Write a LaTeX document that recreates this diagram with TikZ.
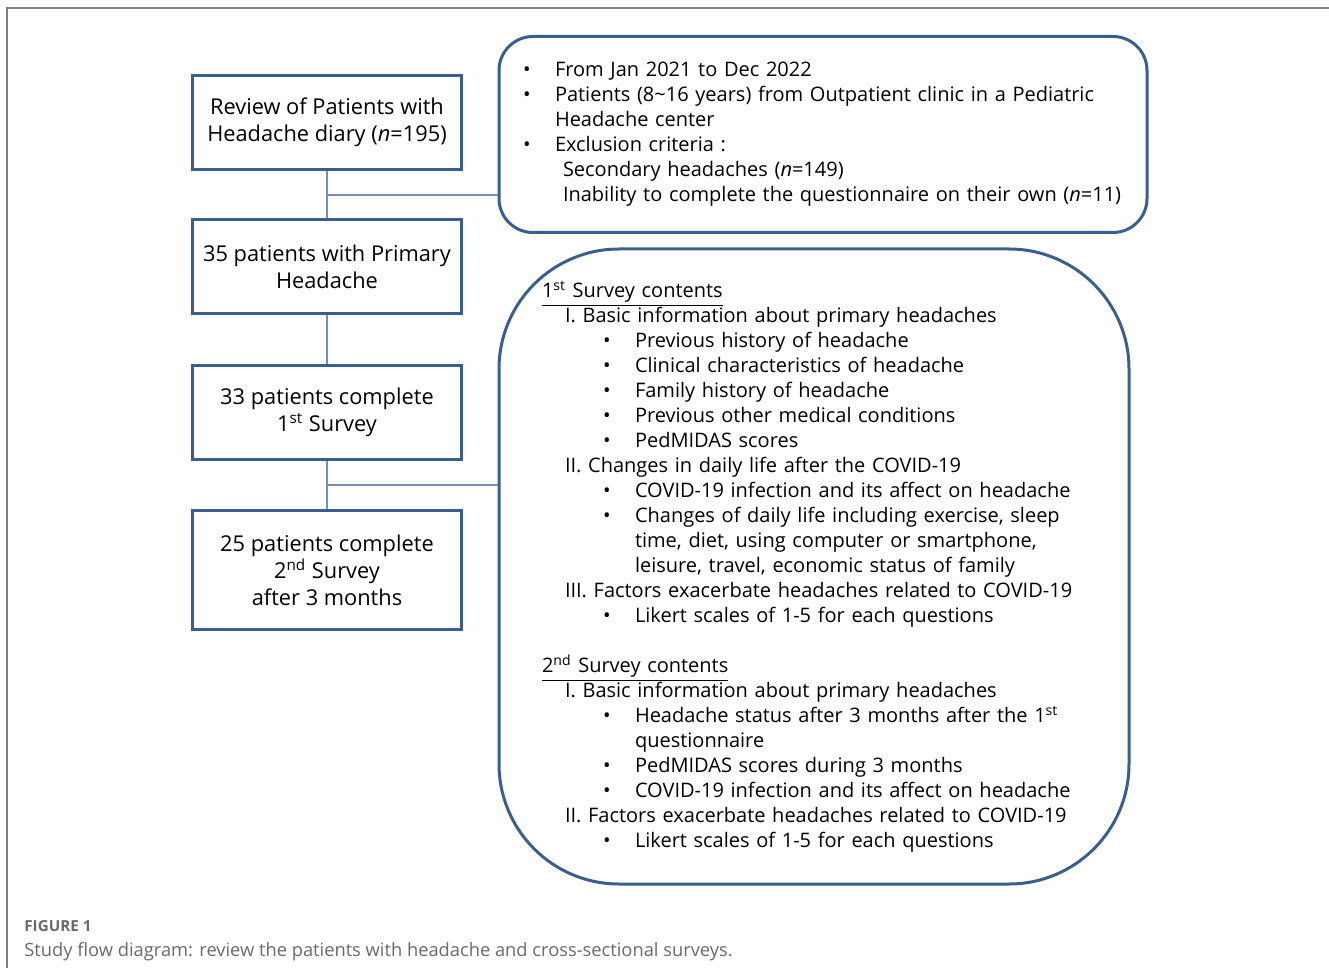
\documentclass[tikz,border=0pt]{standalone}
\usepackage{fontspec}
\setmainfont{Open Sans}
\usetikzlibrary{positioning}
\definecolor{boxblue}{RGB}{59,94,143}
\definecolor{linkblue}{RGB}{112,142,190}
\definecolor{framegray}{RGB}{128,128,128}
\definecolor{capgray}{RGB}{105,105,105}
\newcommand{\bul}{\makebox[16pt][l]{\textbullet}}

\begin{document}
\begin{tikzpicture}[
    x=0.5pt, y=-0.5pt,
    stage/.style={rectangle, draw=boxblue, line width=1.5pt, minimum width=134.5pt, minimum height=47pt, align=center, font=\fontsize{10.9}{13.5}\selectfont},
    info/.style={rectangle, draw=boxblue, line width=1.5pt, align=left, font=\fontsize{10}{12.5}\selectfont},
    link/.style={draw=linkblue, line width=0.6pt}
]
\useasboundingbox (0,0) rectangle (1329,968);

% Frame
\draw[framegray, line width=0.6pt] (7,968) -- (7,8) -- (1329,8);

% Nodes
\node[stage] (review) at (327,122.5) {Review of Patients with\\Headache diary (\textit{n}=195)};
\node[stage, below=23.5pt of review] (primary) {35 patients with Primary\\Headache};
\node[stage, below=24.5pt of primary] (first) {33 patients complete\\1\textsuperscript{st} Survey};
\node[stage, below=24pt of first, minimum height=59.5pt] (second) {25 patients complete\\2\textsuperscript{nd} Survey\\after 3 months};

\node[info, rounded corners=17pt, minimum width=324pt, minimum height=98pt, text width=300pt, inner xsep=12pt] (exclusion) at (823,134.5) {
\bul From Jan 2021 to Dec 2022\\
\bul Patients (8\textasciitilde16 years) from Outpatient clinic in a Pediatric\\
\hspace*{16pt}Headache center\\
\bul Exclusion criteria :\\
\hspace*{20pt}Secondary headaches (\textit{n}=149)\\
\hspace*{20pt}\mbox{Inability to complete the questionnaire on their own (\textit{n}=11)}};

\node[info, rounded corners=60pt, minimum width=315pt, minimum height=317.5pt, text width=272pt, inner xsep=21.5pt] (surveys) at (814,566.5) {
\underline{1\textsuperscript{st} Survey contents}\\
\hspace*{11.5pt}I. Basic information about primary headaches\\
\hspace*{30.5pt}\bul Previous history of headache\\
\hspace*{30.5pt}\bul Clinical characteristics of headache\\
\hspace*{30.5pt}\bul Family history of headache\\
\hspace*{30.5pt}\bul Previous other medical conditions\\
\hspace*{30.5pt}\bul PedMIDAS scores\\
\hspace*{11.5pt}II. Changes in daily life after the COVID-19\\
\hspace*{30.5pt}\bul COVID-19 infection and its affect on headache\\
\hspace*{30.5pt}\bul Changes of daily life including exercise, sleep\\
\hspace*{46.5pt}time, diet, using computer or smartphone,\\
\hspace*{46.5pt}leisure, travel, economic status of family\\
\hspace*{11.5pt}III. Factors exacerbate headaches related to COVID-19\\
\hspace*{30.5pt}\bul Likert scales of 1-5 for each questions\\[12.5pt]
\underline{2\textsuperscript{nd} Survey contents}\\
\hspace*{11.5pt}I. Basic information about primary headaches\\
\hspace*{30.5pt}\bul Headache status after 3 months after the 1\textsuperscript{st}\\
\hspace*{46.5pt}questionnaire\\
\hspace*{30.5pt}\bul PedMIDAS scores during 3 months\\
\hspace*{30.5pt}\bul COVID-19 infection and its affect on headache\\
\hspace*{11.5pt}II. Factors exacerbate headaches related to COVID-19\\
\hspace*{30.5pt}\bul Likert scales of 1-5 for each questions};

\coordinate (split1) at (327,195);
\coordinate (split2) at (327,485);

% Connections
\draw[link] (review) -- (primary);
\draw[link] (primary) -- (first);
\draw[link] (first) -- (second);
\draw[link] (split1) -- (split1 -| exclusion.west);
\draw[link] (split2) -- (split2 -| surveys.west);

% Caption
\node[anchor=base west, inner sep=0, text=capgray, font=\fontsize{7.6}{8}\selectfont\bfseries] (figlabel) at (24,931) {FIGURE 1};
\node[anchor=base west, inner sep=0, text=capgray, font=\fontsize{9.15}{11}\selectfont] (figcaption) at (24,956) {Study flow diagram: review the patients with headache and cross-sectional surveys.};

\end{tikzpicture}
\end{document}
